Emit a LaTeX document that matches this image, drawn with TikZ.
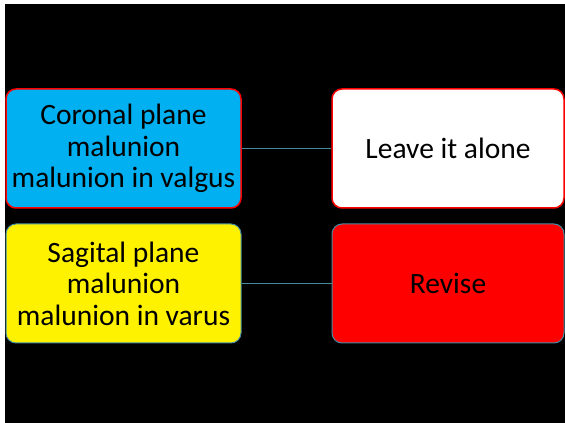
\documentclass[tikz,border=0pt]{standalone}
\usepackage{fontspec}
\setmainfont{Carlito}
\usetikzlibrary{positioning}
\definecolor{skyblue}{RGB}{0,176,240}
\definecolor{tealline}{RGB}{70,140,160}

\tikzset{
  choice/.style={draw, rounded corners=10pt, minimum width=235pt,
    minimum height=119pt, align=center, text=black, inner sep=2pt,
    font=\fontsize{29.5}{31.5}\selectfont},
  link/.style={tealline, line width=1.5pt}
}

\begin{document}
\begin{tikzpicture}[x=1pt, y=1pt]

% ----------------------
% Page and background
% ----------------------
\useasboundingbox (0,0) rectangle (565,423);
\fill[black] (5,0) rectangle (565,419);

% ----------------------
% Malunion types (left column)
% ----------------------
\node[choice, fill=skyblue, draw=red, line width=1.5pt] (coronal) at (123.5,274.5)
{Coronal plane\\malunion\\malunion in valgus};

\node[choice, fill=yellow, draw=tealline, line width=1pt] (sagital) at (123.5,139.5)
{Sagital plane\\malunion\\malunion in varus};

% ----------------------
% Treatment (right column)
% ----------------------
\node[choice, minimum width=232pt, fill=white, draw=red, line width=1.5pt] (leave) at (448,274.5)
{Leave it alone};

\node[choice, minimum width=232pt, fill=red, draw=tealline, line width=1pt] (revise) at (448,139.5)
{Revise};

% ----------------------
% Connectors
% ----------------------
\draw[link] (coronal) -- (leave);
\draw[link] (sagital) -- (revise);

\end{tikzpicture}
\end{document}
